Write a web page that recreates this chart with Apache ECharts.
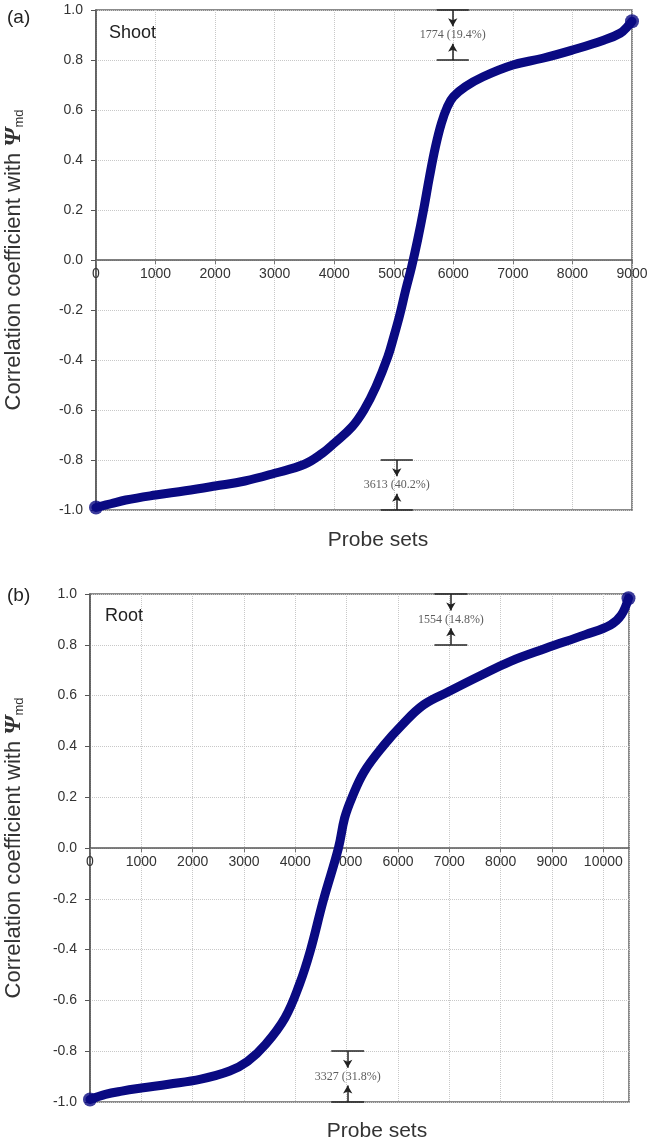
<!DOCTYPE html>
<html>
<head>
<meta charset="utf-8">
<script src="https://cdn.jsdelivr.net/npm/echarts@6/dist/echarts.min.js"></script>
<style>
html, body { margin: 0; padding: 0; background: #fff; }
#main { width: 654px; height: 1142px; }
</style>
</head>
<body>
<div id="main"></div>
<script>
// (a) shoot: probe sets ranked by correlation
var shootX = [0, 250, 500, 1000, 1500, 2000, 2500, 3000, 3500, 3800, 4000, 4300, 4500, 4700, 4900, 5000, 5100, 5200, 5300, 5400, 5500, 5600, 5700, 5800, 5900, 6000, 6200, 6500, 7000, 7500, 8000, 8500, 8800, 8950, 9000]
var shootY = [-0.99, -0.975, -0.96, -0.94, -0.923, -0.904, -0.884, -0.853, -0.817, -0.773, -0.733, -0.667, -0.60, -0.507, -0.387, -0.307, -0.22, -0.12, -0.027, 0.08, 0.2, 0.333, 0.453, 0.547, 0.613, 0.653, 0.693, 0.733, 0.78, 0.807, 0.84, 0.877, 0.907, 0.94, 0.955]

// (b) root
var rootX = [0, 300, 620, 1000, 1530, 2160, 2720, 3070, 3420, 3800, 4080, 4290, 4540, 4840, 4960, 5100, 5340, 5730, 6080, 6500, 6990, 7620, 8180, 8880, 9650, 10140, 10350, 10490]
var rootY = [-0.99, -0.97, -0.957, -0.945, -0.93, -0.91, -0.878, -0.84, -0.773, -0.668, -0.537, -0.406, -0.21, 0, 0.118, 0.197, 0.30, 0.406, 0.485, 0.564, 0.616, 0.68, 0.734, 0.786, 0.84, 0.878, 0.917, 0.983]

var shootMaxX = 9000
var rootMaxX = 10500

// threshold brackets: centre x, upper y, lower y, bar half width, text
var shootNotes = [
	{ x: 5990, top: 1.0, bottom: 0.8, half: 270, text: '1774 (19.4%)' },
	{ x: 5050, top: -0.8, bottom: -1.0, half: 270, text: '3613 (40.2%)' },
]
var rootNotes = [
	{ x: 7030, top: 1.0, bottom: 0.8, half: 320, text: '1554 (14.8%)' },
	{ x: 5020, top: -0.8, bottom: -1.0, half: 320, text: '3327 (31.8%)' },
]

var SANS = "'Liberation Sans', Arial, sans-serif"
var SERIF = "'Liberation Serif', 'Times New Roman', serif"
var NAVY = '#0a0a82'

function pairs(xs, ys) {
	return xs.map(function (x, i) { return [x, ys[i]] })
}

function fmtY(v) {
	if (Math.abs(v) < 1e-9) return '0.0'
	return v.toFixed(1)
}

// x axis sits on the zero line of the y axis: offset it up by half the grid height
function xAxisCfg(gi, max, halfH) {
	return {
		type: 'value',
		gridIndex: gi,
		min: 0,
		max: max,
		interval: 1000,
		position: 'bottom',
		offset: -halfH,
		axisLine: { show: true, onZero: false, lineStyle: { color: '#555', width: 1.5 } },
		axisTick: { show: true, length: 4, lineStyle: { color: '#777' } },
		axisLabel: {
			fontFamily: SANS, fontSize: 14, color: '#333', margin: 7,
			showMaxLabel: max % 1000 === 0,
			formatter: function (v) { return String(v) },
		},
		splitLine: { show: true, lineStyle: { color: '#c8c8c8', type: 'dotted' } },
	}
}

function yAxisCfg(gi, gap) {
	return {
		type: 'value',
		gridIndex: gi,
		min: -1,
		max: 1,
		interval: 0.2,
		name: '{t|Correlation coefficient with }{psi|Ψ}{sub|md}',
		nameLocation: 'middle',
		nameRotate: 90,
		nameGap: gap,
		nameTextStyle: {
			rich: {
				t: { fontFamily: SANS, fontSize: 22, color: '#333' },
				psi: { fontFamily: SERIF, fontSize: 24, fontWeight: 'bold', fontStyle: 'italic', color: '#333' },
				sub: { fontFamily: SANS, fontSize: 13, color: '#333', verticalAlign: 'bottom', padding: [11, 0, 0, 0] },
			},
		},
		axisLine: { show: true, onZero: false, lineStyle: { color: '#555', width: 1.5 } },
		axisTick: { show: true, length: 5, lineStyle: { color: '#555' } },
		axisLabel: { fontFamily: SANS, fontSize: 14, color: '#333', margin: 13, formatter: fmtY },
		splitLine: { show: true, lineStyle: { color: '#c8c8c8', type: 'dotted' } },
	}
}

function bracketLines(notes) {
	var out = []
	notes.forEach(function (n) {
		out.push([{ coord: [n.x - n.half, n.top] }, { coord: [n.x + n.half, n.top] }])
		out.push([{ coord: [n.x - n.half, n.bottom] }, { coord: [n.x + n.half, n.bottom] }])
		out.push([{ coord: [n.x, n.top] }, { coord: [n.x, n.top - 0.065], symbol: 'arrow', symbolSize: [7, 8] }])
		out.push([{ coord: [n.x, n.bottom] }, { coord: [n.x, n.bottom + 0.065], symbol: 'arrow', symbolSize: [7, 8] }])
	})
	return out
}

function curveSeries(gi, xs, ys, notes) {
	var pts = pairs(xs, ys)
	return [
		{
			type: 'line',
			xAxisIndex: gi,
			yAxisIndex: gi,
			data: pts,
			showSymbol: false,
			smooth: 0.4,
			lineStyle: { color: NAVY, width: 9, cap: 'round', join: 'round' },
			z: 3,
			markLine: {
				silent: true,
				symbol: ['none', 'none'],
				label: { show: false },
				lineStyle: { color: '#222', width: 1.5, type: 'solid' },
				data: bracketLines(notes),
			},
		},
		{
			type: 'scatter',
			xAxisIndex: gi,
			yAxisIndex: gi,
			data: [pts[0], pts[pts.length - 1]],
			symbolSize: 14,
			itemStyle: { color: NAVY },
			z: 4,
		},
		{
			type: 'scatter',
			xAxisIndex: gi,
			yAxisIndex: gi,
			data: notes.map(function (n) { return { name: n.text, value: [n.x, (n.top + n.bottom) / 2] } }),
			symbolSize: 1,
			itemStyle: { color: 'transparent' },
			label: {
				show: true,
				position: 'inside',
				formatter: '{b}',
				fontFamily: SERIF,
				fontSize: 12,
				color: '#333',
			},
			z: 5,
		},
	]
}

var chart = echarts.init(document.getElementById('main'), null, { renderer: 'canvas' })

var option = {
	backgroundColor: '#fff',
	animation: false,
	title: [
		{ text: '(a)', left: 2, top: 3, textStyle: { fontFamily: SANS, fontSize: 19, fontWeight: 'normal', color: '#222' } },
		{ text: 'Shoot', left: 104, top: 19, textStyle: { fontFamily: SANS, fontSize: 18, fontWeight: 'normal', color: '#222' } },
		{ text: 'Probe sets', left: 373, top: 525, textAlign: 'center', textStyle: { fontFamily: SANS, fontSize: 21, fontWeight: 'normal', color: '#333' } },
		{ text: '(b)', left: 2, top: 581, textStyle: { fontFamily: SANS, fontSize: 19, fontWeight: 'normal', color: '#222' } },
		{ text: 'Root', left: 100, top: 602, textStyle: { fontFamily: SANS, fontSize: 18, fontWeight: 'normal', color: '#222' } },
		{ text: 'Probe sets', left: 372, top: 1116, textAlign: 'center', textStyle: { fontFamily: SANS, fontSize: 21, fontWeight: 'normal', color: '#333' } },
	],
	grid: [
		{ left: 96, right: 22, top: 10, height: 500, show: true, borderColor: '#666', borderWidth: 1.5, backgroundColor: 'transparent', outerBoundsMode: 'none', containLabel: false },
		{ left: 90, right: 25, top: 594, height: 508, show: true, borderColor: '#666', borderWidth: 1.5, backgroundColor: 'transparent', outerBoundsMode: 'none', containLabel: false },
	],
	xAxis: [xAxisCfg(0, shootMaxX, 250), xAxisCfg(1, rootMaxX, 254)],
	yAxis: [yAxisCfg(0, 70), yAxisCfg(1, 64)],
	series: [].concat(
		curveSeries(0, shootX, shootY, shootNotes),
		curveSeries(1, rootX, rootY, rootNotes)
	),
}

chart.setOption(option)
</script>
</body>
</html>
